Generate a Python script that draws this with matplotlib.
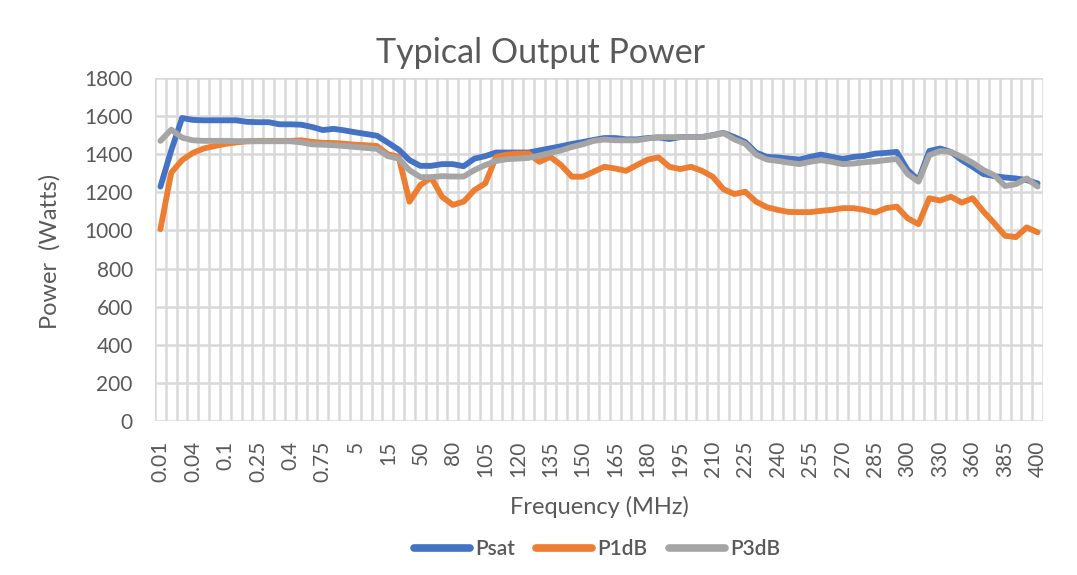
import matplotlib
matplotlib.use("Agg")
import matplotlib.pyplot as plt
from matplotlib.ticker import FixedLocator

plt.rcParams['font.family'] = ['Lato', 'DejaVu Sans']

frequencies = ["0.01", "0.02", "0.03", "0.04", "0.06", "0.08", "0.1", "0.15", "0.2", "0.25",
               "0.3", "0.35", "0.4", "0.5", "0.6", "0.75", "1", "2", "5", "8", "10", "15",
               "20", "30", "50", "60", "70", "80", "90", "100", "105", "110", "115", "120",
               "125", "130", "135", "140", "145", "150", "155", "160", "165", "170", "175",
               "180", "185", "190", "195", "200", "205", "210", "215", "220", "225", "230",
               "235", "240", "245", "250", "255", "260", "265", "270", "275", "280", "285",
               "290", "295", "300", "310", "320", "330", "340", "350", "360", "370", "380",
               "385", "390", "395", "400"]

psat = [1230, 1420, 1590, 1580, 1578, 1578, 1578, 1578, 1570, 1568,
        1568, 1557, 1557, 1555, 1543, 1527, 1533, 1525, 1515, 1506,
        1497, 1461, 1424, 1369, 1339, 1339, 1348, 1348, 1337, 1377,
        1390, 1409, 1409, 1409, 1409, 1420, 1431, 1442, 1454, 1464,
        1475, 1485, 1485, 1478, 1478, 1485, 1488, 1480, 1490, 1490,
        1490, 1500, 1512, 1490, 1464, 1409, 1386, 1383, 1377, 1372,
        1386, 1398, 1386, 1375, 1386, 1391, 1403, 1407, 1412, 1317,
        1264, 1417, 1430, 1412, 1369, 1334, 1296, 1285, 1278, 1273,
        1264, 1247]

p1db = [1007, 1303, 1369, 1407, 1430, 1443, 1454, 1462, 1468, 1470,
        1470, 1470, 1470, 1473, 1465, 1460, 1459, 1455, 1450, 1447,
        1443, 1400, 1386, 1151, 1238, 1278, 1177, 1134, 1151, 1212,
        1247, 1386, 1398, 1403, 1403, 1360, 1386, 1343, 1282, 1282,
        1308, 1334, 1325, 1313, 1343, 1372, 1383, 1334, 1322, 1334,
        1313, 1282, 1216, 1191, 1203, 1151, 1122, 1108, 1097, 1096,
        1096, 1103, 1108, 1117, 1117, 1108, 1094, 1117, 1125, 1064,
        1033, 1169, 1157, 1177, 1146, 1169, 1099, 1038, 972, 965,
        1016, 990]

p3db = [1470, 1529, 1487, 1473, 1470, 1470, 1470, 1469, 1468, 1468,
        1468, 1468, 1468, 1462, 1452, 1450, 1447, 1443, 1438, 1433,
        1428, 1390, 1377, 1316, 1280, 1280, 1285, 1283, 1283, 1317,
        1343, 1365, 1374, 1377, 1381, 1393, 1407, 1420, 1438, 1452,
        1470, 1477, 1473, 1473, 1473, 1482, 1490, 1490, 1490, 1490,
        1490, 1499, 1511, 1478, 1455, 1398, 1372, 1365, 1356, 1348,
        1360, 1369, 1360, 1348, 1351, 1358, 1362, 1369, 1375, 1296,
        1256, 1395, 1417, 1412, 1386, 1355, 1317, 1290, 1233, 1243,
        1273, 1230]

series_names = ["Psat", "P1dB", "P3dB"]
colors = ["#4472C4", "#ED7D31", "#A5A5A5"]
text_color = "#595959"
grid_color = "#D9D9D9"

fig = plt.figure(figsize=(10.77, 5.75), dpi=100)
ax = fig.add_axes([155/1077, 1 - 421/575, (1043 - 155)/1077, (421 - 78)/575])

x = list(range(len(frequencies)))
for vals, name, c in zip([psat, p1db, p3db], series_names, colors):
    ax.plot(x, vals, color=c, lw=4.2, label=name, solid_joinstyle='round',
            solid_capstyle='round', zorder=3)

ax.set_xlim(-0.5, len(frequencies) - 0.5)
ax.set_ylim(0, 1800)
ax.set_yticks(range(0, 1801, 200))

ax.xaxis.set_major_locator(FixedLocator(list(range(0, len(frequencies), 3))))
ax.set_xticklabels([frequencies[i] for i in range(0, len(frequencies), 3)],
                   rotation=90, fontsize=15, color=text_color)
ax.xaxis.set_minor_locator(FixedLocator([i - 0.5 for i in range(len(frequencies) + 1)]))
ax.grid(True, which='minor', axis='x', color=grid_color, lw=1.8, zorder=0)
ax.grid(True, which='major', axis='y', color=grid_color, lw=1.8, zorder=0)
ax.grid(False, which='major', axis='x')
ax.tick_params(axis='both', which='both', length=0)
ax.tick_params(axis='x', pad=14)
ax.tick_params(axis='y', pad=16, labelsize=15, labelcolor=text_color)
for s in ax.spines.values():
    s.set_visible(False)
ax.set_axisbelow(True)

fig.text(0.5015, 1 - 53/575, "Typical Output Power", ha='center', va='center',
         fontsize=24.5, color=text_color)
fig.text(50/1077, 1 - 251/575, "Power  (Watts)", ha='center', va='center',
         rotation=90, fontsize=17, color=text_color)
fig.text(599/1077, 1 - 507/575, "Frequency (MHz)", ha='center', va='center',
         fontsize=17, color=text_color)

leg = fig.legend(loc='center', bbox_to_anchor=(597/1077, 1 - 549/575), ncol=3,
                 frameon=False, fontsize=15, handlelength=2.7, handletextpad=0.25,
                 columnspacing=1.0)
for t in leg.get_texts():
    t.set_color(text_color)
    t.set_fontweight('semibold')
for h in leg.get_lines():
    h.set_linewidth(5.5)
    h.set_solid_capstyle('round')

fig.savefig("out.png", dpi=100)
